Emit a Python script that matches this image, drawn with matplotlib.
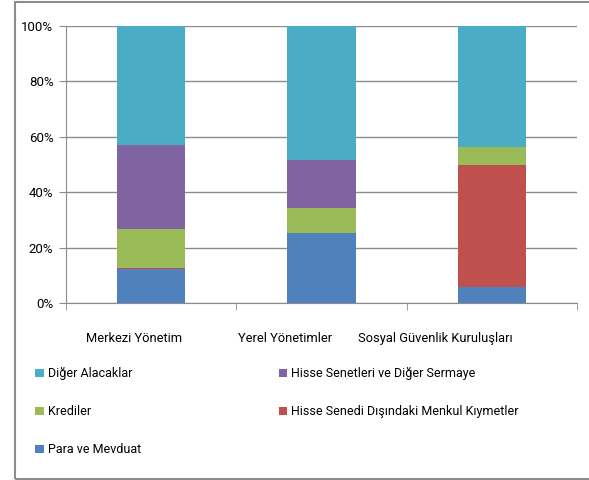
import numpy as np
import matplotlib.pyplot as plt
from matplotlib.patches import Patch, Rectangle
from matplotlib.ticker import PercentFormatter
from matplotlib.transforms import ScaledTranslation

plt.rcParams['font.family'] = ['Roboto', 'DejaVu Sans']

categories = ['Merkezi Yönetim', 'Yerel Yönetimler', 'Sosyal Güvenlik Kuruluşları']

# stacked from bottom to top, percent of total
para = [12.2, 25.2, 6.0]
menkul = [0.4, 0.0, 43.8]
krediler = [14.0, 9.1, 6.5]
hisse = [30.4, 17.3, 0.0]
diger = [43.0, 48.4, 43.7]

series = [
    ('Para ve Mevduat', para, '#4F81BD'),
    ('Hisse Senedi Dışındaki Menkul Kıymetler', menkul, '#C0504D'),
    ('Krediler', krediler, '#9BBB59'),
    ('Hisse Senetleri ve Diğer Sermaye', hisse, '#8064A2'),
    ('Diğer Alacaklar', diger, '#4BACC6'),
]

fs = 9.0

fig = plt.figure(figsize=(5.89, 4.8), dpi=100)
ax = fig.add_axes([66 / 589, 1 - 303.3 / 480, 511 / 589, 277.6 / 480])

x = np.arange(len(categories))
bottom = np.zeros(len(categories))
handles = {}
for name, vals, color in series:
    ax.bar(x, vals, 0.4, bottom=bottom, color=color, zorder=2)
    bottom += np.array(vals)
    handles[name] = Patch(facecolor=color)

ax.set_xlim(-0.5, 2.5)
ax.set_ylim(0, 100)
ax.set_yticks(np.arange(0, 101, 20))
ax.yaxis.set_major_formatter(PercentFormatter(decimals=0))
ax.yaxis.grid(True, color='#8c8c8c', linewidth=1)
ax.set_axisbelow(True)

ax.set_xticks(x)
ax.set_xticklabels(categories)
ax.set_xticks([-0.5, 0.5, 1.5, 2.5], minor=True)
ax.tick_params(axis='x', which='major', length=0, pad=21, labelsize=fs + 0.3)
ax.tick_params(axis='x', which='minor', length=5, color='#8c8c8c')
ax.tick_params(axis='y', length=5, color='#8c8c8c', labelsize=fs + 0.5, pad=4)

# category labels sit a bit left of the bar centres in the original
shifts = [-17, -36, -56]
for lbl, dx in zip(ax.get_xticklabels(), shifts):
    lbl.set_transform(lbl.get_transform() + ScaledTranslation(dx / 100, 0, fig.dpi_scale_trans))

for s in ['top', 'right']:
    ax.spines[s].set_visible(False)
ax.spines['left'].set_color('#8c8c8c')
ax.spines['bottom'].set_color('#8c8c8c')

order = ['Diğer Alacaklar', 'Krediler', 'Para ve Mevduat',
         'Hisse Senetleri ve Diğer Sermaye', 'Hisse Senedi Dışındaki Menkul Kıymetler']
fig.legend([handles[n] for n in order], order, ncol=2, loc='upper left',
           bbox_to_anchor=(24 / 589, 1 - 356 / 480), frameon=False,
           fontsize=fs, handlelength=0.7, handleheight=0.7, handletextpad=0.3,
           labelspacing=2.0, columnspacing=11.0)

# outer chart border
fig.patches.append(Rectangle((15 / 589, 1 / 480), 1.1, 477 / 480, transform=fig.transFigure,
                             fill=False, edgecolor='#8c8c8c', linewidth=1.5))

fig.savefig('out.png', dpi=100)
